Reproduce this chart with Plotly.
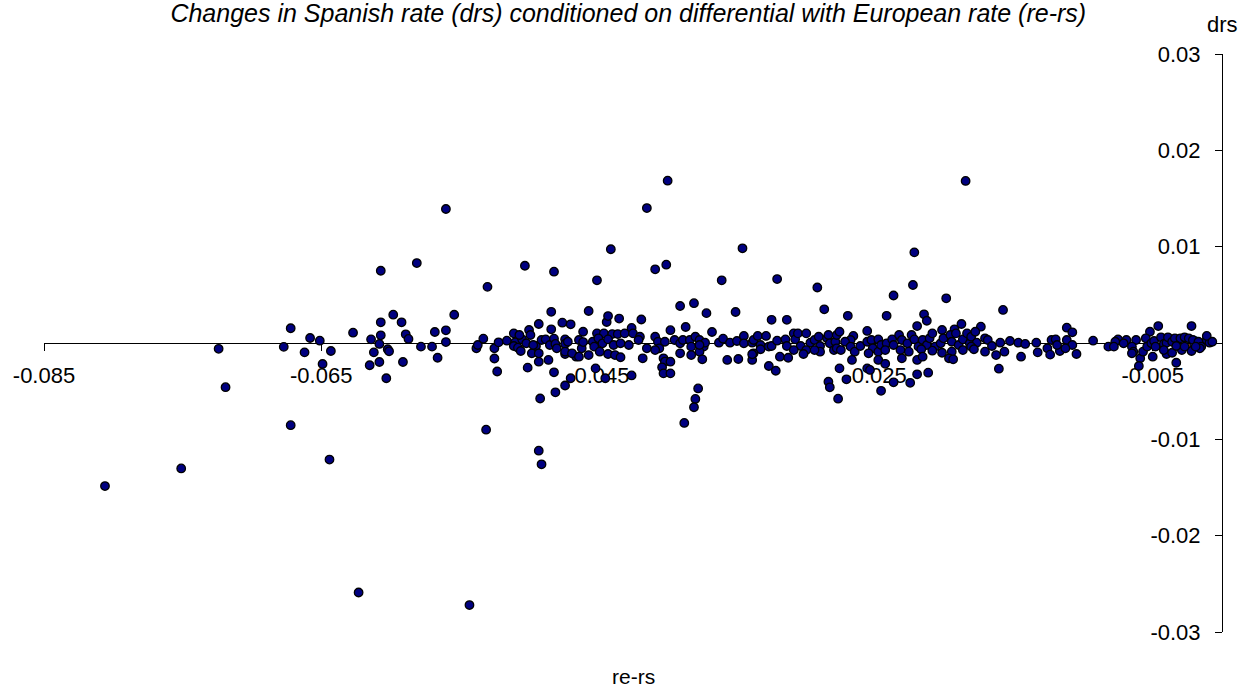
import plotly.graph_objects as go

# re-rs (x) and drs (y) values
re_rs = [
    -0.0806, -0.0751, -0.0724, -0.0719, -0.0677, -0.0672, -0.0672, -0.0662, -0.0658, -0.0651,
    -0.0649, -0.0643, -0.0644, -0.0627, -0.0623, -0.0615, -0.0614, -0.0612, -0.0608, -0.0607,
    -0.0607, -0.0607, -0.0608, -0.0603, -0.0602, -0.0601, -0.0598, -0.0592, -0.0591, -0.0589,
    -0.0587, -0.0581, -0.0578, -0.0570, -0.0568, -0.0566,
    -0.0560, -0.0560, -0.0560, -0.0554, -0.0538, -0.0537, -0.0533, -0.0530, -0.0531, -0.0525,
    -0.0522, -0.0525, -0.0523, -0.0516, -0.0511, -0.0510, -0.0511, -0.0508, -0.0506, -0.0505,
    -0.0500, -0.0499, -0.0502, -0.0498, -0.0495, -0.0493, -0.0493, -0.0501, -0.0503, -0.0491,
    -0.0488, -0.0485, -0.0484, -0.0484, -0.0486, -0.0482, -0.0481, -0.0482, -0.0476, -0.0474,
    -0.0474, -0.0474, -0.0482, -0.0481, -0.0492, -0.0493, -0.0491, -0.0474, -0.0470,
    -0.0507, -0.0497, -0.0493, -0.0480, -0.0466, -0.0462, -0.0543,
    -0.0470, -0.0457, -0.0451, -0.0444, -0.0443, -0.0435, -0.0441, -0.0419, -0.0415, -0.0400,
    -0.0409, -0.0401, -0.0391, -0.0381, -0.0387, -0.0398, -0.0461, -0.0451, -0.0446, -0.0440,
    -0.0436, -0.0431, -0.0426, -0.0425, -0.0420, -0.0472, -0.0464, -0.0461, -0.0454, -0.0450,
    -0.0447, -0.0443, -0.0439, -0.0434, -0.0428, -0.0421, -0.0474, -0.0469, -0.0464, -0.0457,
    -0.0453, -0.0443, -0.0438, -0.0434, -0.0449, -0.0418, -0.0415, -0.0409, -0.0407, -0.0406,
    -0.0402, -0.0409, -0.0403, -0.0402, -0.0398, -0.0404, -0.0403, -0.0398, -0.0395, -0.0391,
    -0.0389, -0.0384, -0.0380, -0.0377, -0.0374, -0.0383, -0.0391, -0.0383, -0.0377, -0.0375,
    -0.0452, -0.0445, -0.0426, -0.0378, -0.0380, -0.0381, -0.0388,
    -0.0372, -0.0368, -0.0361, -0.0351, -0.0346, -0.0325, -0.0314, -0.0321, -0.0292, -0.0287,
    -0.0373, -0.0377, -0.0363, -0.0360, -0.0355, -0.0350, -0.0345, -0.0345, -0.0339, -0.0338,
    -0.0335, -0.0333, -0.0329, -0.0327, -0.0325, -0.0321, -0.0315, -0.0314, -0.0309, -0.0308,
    -0.0306, -0.0304, -0.0300, -0.0297, -0.0294, -0.0291, -0.0290, -0.0290, -0.0285, -0.0284,
    -0.0283, -0.0279, -0.0278, -0.0280, -0.0294, -0.0300, -0.0309, -0.0333, -0.0338, -0.0357,
    -0.0349, -0.0339, -0.0339, -0.0327, -0.0322, -0.0319, -0.0313, -0.0302, -0.0284, -0.0283,
    -0.0277, -0.0276, -0.0271, -0.0270,
    -0.0223, -0.0222, -0.0237, -0.0242, -0.0199, -0.0215, -0.0213, -0.0220, -0.0202, -0.0188,
    -0.0193, -0.0185, -0.0276, -0.0256, -0.0266, -0.0268, -0.0272, -0.0278, -0.0275, -0.0268,
    -0.0265, -0.0261, -0.0256, -0.0253, -0.0248, -0.0252, -0.0255, -0.0248, -0.0246, -0.0242,
    -0.0238, -0.0237, -0.0233, -0.0231, -0.0227, -0.0224, -0.0222, -0.0219, -0.0216, -0.0213,
    -0.0211, -0.0209, -0.0207, -0.0203, -0.0201, -0.0196, -0.0195, -0.0192, -0.0190, -0.0187,
    -0.0184, -0.0182, -0.0181, -0.0187, -0.0195, -0.0202, -0.0209, -0.0217, -0.0226, -0.0232,
    -0.0243, -0.0267, -0.0248, -0.0243, -0.0256, -0.0254, -0.0231, -0.0220, -0.0216, -0.0212,
    -0.0225, -0.0246, -0.0237, -0.0220, -0.0197, -0.0194,
    -0.0158, -0.0174, -0.0178, -0.0171, -0.0169, -0.0177, -0.0181, -0.0179, -0.0171, -0.0166,
    -0.0163, -0.0160, -0.0157, -0.0153, -0.0147, -0.0142, -0.0145, -0.0161, -0.0134, -0.0133,
    -0.0126, -0.0123, -0.0120, -0.0124, -0.0117, -0.0119, -0.0112, -0.0108, -0.0112, -0.0108,
    -0.0105, -0.0113, -0.0093, -0.0082,
    -0.0022, -0.0046, -0.0052, -0.0055, -0.0062, -0.0069, -0.0075, -0.0077, -0.0078, -0.0071,
    -0.0065, -0.0064, -0.0065, -0.0059, -0.0060, -0.0057, -0.0054, -0.0051, -0.0049, -0.0048,
    -0.0044, -0.0042, -0.0040, -0.0039, -0.0036, -0.0034, -0.0030, -0.0027, -0.0024, -0.0021,
    -0.0017, -0.0015, -0.0011, -0.0009, -0.0011, -0.0040, -0.0033, -0.0029, -0.0022, -0.0016,
    -0.0050, -0.0042, -0.0036, -0.0033, -0.0027, -0.0019, -0.0007,
]

drs = [
    -0.01485, -0.01302, -0.0006, -0.00459, -0.0004, 0.00153, -0.00853, -0.00097, 0.00052, 0.00024,
    -0.00218, -0.00083, -0.0121, 0.00107, -0.0259, -0.00231, 0.00038, -0.00097, -0.0001, 0.0008,
    0.00215, 0.0075, -0.00197, -0.00366, -0.00065, -0.00086, 0.00294, 0.00215, -0.00197, 0.0009,
    0.00042, 0.0083, -0.00038, -0.00038, 0.00114, -0.00153,
    0.01391, 0.00132, 0.0001, 0.00293, -0.00055, -0.00021, 0.00045, 0.00583, -0.009, -0.00055,
    0.00007, -0.00161, -0.00296, 0.00024, 0.001, 0.00007, -0.00031, -0.00049, -0.00083, 0.00038,
    0.00135, 0.00083, -0.00003, -0.00107, -0.00031, 0.00197, -0.00194, -0.00256, 0.00802, 0.00031,
    0.00038, -0.00021, 0.00142, 0.00324, -0.00176, 0.00045, -0.0001, 0.0074, 0.00211, 0.00038,
    -0.0001, -0.00114, -0.00304, -0.00512, -0.00576, -0.01118, -0.01259, -0.00441, -0.00366,
    0.00083, -0.00021, -0.00107, -0.00055, -0.00142, -0.00055, -0.0272,
    0.00194, 0.00332, 0.00651, 0.00218, 0.0028, 0.00254, 0.00973, 0.00244, 0.01401, 0.01685,
    0.00765, 0.00813, 0.00384, 0.00413, 0.00166, 0.00133, 0.00117, 0.001, 0.001, 0.00093,
    0.00093, 0.001, 0.00156, 0.001, 0.00065, 0.00013, 0.00031, 0.0001, 0.00013, 0.00049,
    -0.00003, 0.00038, -0.00021, -0.00003, -0.00021, 0.00031, -0.0009, -0.00107, -0.00142, -0.00125,
    -0.00038, -0.00114, -0.00125, -0.00148, -0.0009, -0.00159, -0.00055, 0.00065, 0.00013, -0.00055,
    0.00013, -0.00073, -0.00159, -0.00194, -0.00194, -0.00252, -0.00315, -0.00315, 0.00031, -0.00003,
    0.00031, 0.00031, 0.00065, 0.00031, -0.00038, -0.00038, -0.00107, -0.00125, -0.0009, -0.00169,
    -0.00263, -0.00366, -0.00337, -0.00472, -0.00581, -0.00667, -0.0083,
    0.0031, 0.00114, 0.00651, 0.00322, 0.00983, 0.00241, 0.00241, 0.00664, 0.00576, 0.0035,
    0.00003, -0.00021, 0.00003, 0.00045, 0.00003, 0.00021, 0.00073, -0.00003, 0.00003, 0.00031,
    0.00073, -0.00021, 0.00073, -0.00038, -0.00031, 0.00024, 0.00038, -0.00031, 0.001, 0.00038,
    0.001, -0.00031, 0.001, 0.00003, 0.00031, 0.00065, -0.00031, -0.0009, 0.00049, 0.00083,
    -0.00003, 0.00013, 0.00083, -0.00073, -0.00073, -0.00073, -0.00073, -0.00065, -0.00107, -0.00176,
    -0.00166, -0.00176, -0.00117, -0.00239, -0.00288, -0.00142, -0.00153, -0.00114, -0.00402, -0.0046,
    -0.00578, -0.00263, -0.00377, 0.00282,
    0.00602, 0.00941, 0.00493, 0.00282, 0.00464, 0.00298, 0.00231, 0.00176, 0.00135, 0.00197,
    0.00142, 0.01682, 0.00117, 0.00125, 0.00073, 0.00031, 0.00013, -0.00055, -0.00073, -0.00038,
    -0.0009, -0.00031, 0.00013, 0.00031, 0.00038, -0.00055, -0.00107, -0.0009, -0.00021, -0.00003,
    0.00038, -0.00021, 0.00083, 0.00031, -0.00003, 0.00083, 0.00038, -0.00038, 0.00031, -0.00021,
    0.00049, 0.001, -0.00038, -0.00003, 0.00049, 0.00083, 0.00013, 0.001, -0.00021, 0.00038,
    0.001, -0.00003, 0.00065, -0.00073, -0.0009, -0.00101, -0.0008, -0.00065, -0.0009, -0.00073,
    -0.00073, -0.00176, -0.00176, -0.00216, -0.00263, -0.0028, -0.00159, -0.00176, -0.00142, -0.00308,
    -0.00413, -0.00496, -0.00408, -0.00325, -0.00159, -0.00169,
    0.00343, 0.00169, 0.00117, 0.00049, 0.00031, 0.00003, -0.00038, -0.00065, -0.0009, -0.00031,
    -0.00125, 0.00003, -0.0009, 0.00021, 0.00003, -0.0001, -0.00142, -0.00267, 0.00003, -0.00097,
    -0.00055, 0.00031, 0.00038, -0.00121, -0.00083, -0.00021, 0.00159, 0.00111, 0.00031, -0.00021,
    -0.00114, -0.00055, 0.00024, -0.00038,
    0.00176, 0.00176, 0.00117, 0.00049, 0.00031, 0.00031, 0.00038, 0.00013, -0.00038, -0.00003,
    -0.00038, -0.0009, -0.00107, -0.00159, -0.00239, -0.0009, -0.00038, -0.00003, 0.00021, -0.00038,
    0.00059, -0.0001, 0.00003, 0.00059, 0.00013, 0.00049, 0.00049, 0.00059, 0.00049, 0.00031,
    0.00013, -0.00038, 0.00031, 0.00003, 0.00073, -0.00114, -0.00205, -0.00073, -0.00083, -0.00055,
    -0.00142, -0.00073, -0.00101, -0.00031, -0.00038, -0.00038, 0.00013,
]

x_tickvals = [-0.085, -0.065, -0.045, -0.025, -0.005]
x_ticktext = ["-0.085", "-0.065", "-0.045", "-0.025", "-0.005"]
y_tickvals = [-0.03, -0.02, -0.01, 0, 0.01, 0.02, 0.03]
y_ticktext = ["-0.03", "-0.02", "-0.01", "0", "0.01", "0.02", "0.03"]

FONT = "Liberation Sans, Arial, sans-serif"

fig = go.Figure()
fig.add_trace(go.Scatter(
    x=re_rs, y=drs, mode="markers",
    marker=dict(size=8.5, color="#000080", line=dict(color="black", width=1.3)),
    hoverinfo="x+y", showlegend=False, cliponaxis=False,
))

fig.update_layout(
    width=1251, height=689,
    margin=dict(l=44, r=29, t=54, b=57),
    paper_bgcolor="white", plot_bgcolor="white",
    font=dict(family=FONT, color="black", size=22),
    title=dict(
        text="<i>Changes in Spanish rate (drs) conditioned on differential with European rate (re-rs)</i>",
        x=0.496, xref="paper", xanchor="center",
        y=1 - 13 / 689, yref="container", yanchor="middle",
        font=dict(family=FONT, size=25, color="black"),
    ),
    xaxis=dict(
        range=[-0.085, 0], tickvals=x_tickvals, ticktext=x_ticktext,
        anchor="free", position=0.5, showline=True, linecolor="black", linewidth=1,
        ticks="outside", ticklen=7, tickcolor="black", tickwidth=1,
        showgrid=False, zeroline=False, layer="below traces",
        tickfont=dict(family=FONT, size=22, color="black"), ticklabelstandoff=6,
    ),
    yaxis=dict(
        range=[-0.03, 0.03], tickvals=y_tickvals, ticktext=y_ticktext,
        anchor="free", position=1.0, side="left", showline=True, linecolor="black", linewidth=1,
        ticks="outside", ticklen=7, tickcolor="black", tickwidth=1,
        showgrid=False, zeroline=False, layer="below traces",
        tickfont=dict(family=FONT, size=22, color="black"), ticklabelstandoff=10,
    ),
    annotations=[
        dict(text="drs", xref="paper", yref="paper", x=1.0, y=(632 - 24) / 578,
             xanchor="center", yanchor="middle", showarrow=False,
             font=dict(family=FONT, size=22, color="black")),
        dict(text="re-rs", xref="paper", yref="paper", x=0.5, y=(632 - 676) / 578,
             xanchor="center", yanchor="middle", showarrow=False,
             font=dict(family=FONT, size=21, color="black")),
    ],
)

fig.write_html("out.html")
